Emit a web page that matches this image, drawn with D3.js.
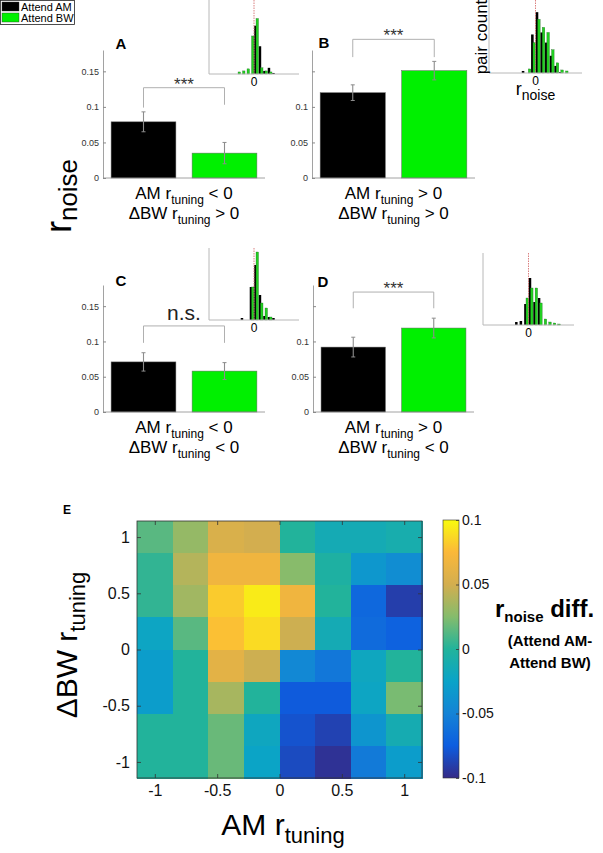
<!DOCTYPE html>
<html><head><meta charset="utf-8">
<script src="https://cdn.jsdelivr.net/npm/d3@7"></script>
<style>
body{margin:0;background:#fff}
svg{display:block}
text{font-family:"Liberation Sans",Arial,Helvetica,sans-serif;white-space:pre}
</style>
</head><body>
<svg id="fig" width="603" height="853"></svg>
<script>
// ---------------- DATA ----------------
const seriesNames = ["Attend AM", "Attend BW"];
const panelLetters = ["A", "B", "C", "D"];
const meanAttendAM = [0.079, 0.120, 0.071, 0.092];
const meanAttendBW = [0.035, 0.151, 0.058, 0.119];
const semAttendAM = [0.014, 0.011, 0.013, 0.014];
const semAttendBW = [0.015, 0.013, 0.012, 0.014];
const sigLabels = ["***", "***", "n.s.", "***"];
const amCondition = ["< 0", "> 0", "< 0", "> 0"];
const bwCondition = ["> 0", "> 0", "< 0", "< 0"];
const bracketTop = [0.127, 0.195, 0.122, 0.170];
const bracketLegLeft = [0.099, 0.170, 0.098, 0.147];
const bracketLegRight = [0.103, 0.170, 0.098, 0.147];
const barTicks = [0, 0.05, 0.1, 0.15];
const barTickLabels = [
  ["0", "0.05", "0.1", "0.15"],
  ["0", "0.05", "0.1", ""],
  ["0", "0.05", "0.1", "0.15"],
  ["0", "0.05", "0.1", ""]
];

// inset histograms of r_noise (pair counts)
const histBinCenters = [-0.35, -0.25, -0.15, -0.05, 0.05, 0.15, 0.25, 0.35, 0.45, 0.55, 0.65];
const histAM_A = [0, 0, 0, 0, 47, 27, 3, 6, 1, 0, 0];
const histBW_A = [2, 3, 5, 37, 54, 6, 3, 2, 0, 0, 0];
const histAM_B = [0, 2, 0, 38, 60, 40, 30, 17, 7, 1, 0];
const histBW_B = [0, 0, 4, 30, 53, 45, 40, 23, 10, 3, 2];
const histAM_C = [0, 2, 0, 33, 55, 25, 4, 3, 2, 0, 0];
const histBW_C = [0, 0, 0, 33, 68, 17, 12, 3, 0, 0, 0];
const histAM_D = [0, 3, 4, 21, 47, 23, 27, 0, 0, 0, 0];
const histBW_D = [0, 0, 0, 27, 37, 37, 22, 6, 3, 2, 1];
const histAM = [histAM_A, histAM_B, histAM_C, histAM_D];
const histBW = [histBW_A, histBW_B, histBW_C, histBW_D];

// heat map E
const amTuningBins = [-1, -0.714, -0.429, -0.143, 0.143, 0.429, 0.714, 1];
const bwTuningBins = [1, 0.714, 0.429, 0.143, -0.143, -0.429, -0.714, -1]; // rows top -> bottom
const noiseDiff = [
  [0.014, 0.030, 0.054, 0.050, 0.000, -0.014, -0.014, -0.010],
  [0.004, 0.040, 0.068, 0.068, 0.026, -0.004, -0.034, -0.042],
  [0.004, 0.034, 0.082, 0.094, 0.068, 0.000, -0.068, -0.090],
  [-0.022, 0.014, 0.078, 0.088, 0.048, -0.014, -0.066, -0.072],
  [-0.030, 0.000, 0.060, 0.048, -0.046, -0.058, -0.020, 0.000],
  [-0.030, 0.000, 0.036, 0.000, -0.076, -0.076, -0.022, 0.022],
  [0.000, 0.000, 0.018, -0.020, -0.080, -0.088, -0.036, -0.012],
  [0.000, 0.000, 0.018, -0.024, -0.084, -0.096, -0.056, -0.030]
];
const heatTicks = [-1, -0.5, 0, 0.5, 1];
const colorbarTicks = [-0.1, -0.05, 0, 0.05, 0.1];

// ---------------- STYLE ----------------
const FONT = '"Liberation Sans", Arial, Helvetica, sans-serif';
const barColors = ["#000000", "#00f000"];
const parulaStops = ["#352a87", "#0d5de0", "#1483d6", "#0aa3c8", "#22b39b", "#85bc6c", "#d3ae4f", "#fbb839", "#f9fb0e"];
const axisGray = "#8a8a8a";

const svg = d3.select("#fig");

function richText(g, x, y, parts, opts = {}) {
  const t = g.append("text").attr("x", x).attr("y", y)
    .attr("text-anchor", opts.anchor || "middle")
    .attr("font-weight", opts.weight || "normal")
    .attr("fill", opts.fill || "#000");
  if (opts.rotate) t.attr("transform", `rotate(${opts.rotate},${x},${y})`);
  let cur = 0;
  parts.forEach(p => {
    const s = p.shift || 0;
    t.append("tspan").attr("font-size", p.size).attr("dy", s - cur).text(p.text);
    cur = s;
  });
  return t;
}

// ---------------- LEGEND ----------------
const leg = svg.append("g");
leg.append("rect").attr("x", 0.5).attr("y", 0.5).attr("width", 74).attr("height", 24)
  .attr("fill", "#fff").attr("stroke", "#222").attr("stroke-width", 0.8);
seriesNames.forEach((n, i) => {
  leg.append("rect").attr("x", 2).attr("y", 2 + i * 11).attr("width", 17).attr("height", 9)
    .attr("fill", barColors[i]).attr("stroke", "#333").attr("stroke-width", 0.4);
  leg.append("text").attr("x", 21).attr("y", 10.5 + i * 11).attr("font-size", 11).text(n);
});

// ---------------- BAR PANELS ----------------
const panelFrames = [
  {x0: 103, x1: 265, yTop: 50, yBase: 178, lx: 121, ly: 49},
  {x0: 312, x1: 475, yTop: 50, yBase: 178, lx: 324, ly: 48},
  {x0: 103, x1: 265, yTop: 285, yBase: 412, lx: 121, ly: 286},
  {x0: 313, x1: 474, yTop: 285, yBase: 412, lx: 323, ly: 287}
];
const insetFrames = [
  {x0: 209, x1: 299, yTop: 0, yBase: 74},
  {x0: 489, x1: 582, yTop: 0, yBase: 73},
  {x0: 209, x1: 299, yTop: 248, yBase: 320},
  {x0: 483, x1: 574, yTop: 253, yBase: 325}
];

panelLetters.forEach((letter, i) => {
  const f = panelFrames[i];
  const g = svg.append("g");
  const y = d3.scaleLinear().domain([0, 0.18]).range([f.yBase, f.yTop]);
  const x = d3.scaleBand().domain(seriesNames).range([f.x0, f.x1]).paddingInner(0.2).paddingOuter(0.1);
  const means = [meanAttendAM[i], meanAttendBW[i]];
  const sems = [semAttendAM[i], semAttendBW[i]];

  g.selectAll("rect.bar").data(seriesNames).join("rect")
    .attr("x", d => x(d)).attr("width", x.bandwidth())
    .attr("y", (d, j) => y(means[j])).attr("height", (d, j) => y(0) - y(means[j]))
    .attr("fill", (d, j) => barColors[j]).attr("stroke", "#666").attr("stroke-width", 0.5);

  seriesNames.forEach((d, j) => {
    const cx = x(d) + x.bandwidth() / 2;
    const lo = y(means[j] - sems[j]), hi = y(means[j] + sems[j]);
    g.append("line").attr("x1", cx).attr("x2", cx).attr("y1", lo).attr("y2", hi)
      .attr("stroke", "#8c8c8c").attr("stroke-width", 1.1);
    [lo, hi].forEach(yy => g.append("line").attr("x1", cx - 2).attr("x2", cx + 2)
      .attr("y1", yy).attr("y2", yy).attr("stroke", "#8c8c8c").attr("stroke-width", 1));
  });

  const ax = g.append("g").attr("transform", `translate(${f.x0},0)`)
    .call(d3.axisLeft(y).tickValues(barTicks).tickFormat((d, k) => barTickLabels[i][k])
      .tickSizeInner(-3).tickSizeOuter(0).tickPadding(4));
  ax.attr("font-family", FONT).attr("font-size", 9);
  ax.select(".domain").attr("stroke", axisGray).attr("stroke-width", 0.8);
  ax.selectAll(".tick line").attr("stroke", axisGray);
  ax.selectAll("text").attr("fill", "#333");
  g.append("line").attr("x1", f.x0).attr("x2", f.x1).attr("y1", f.yBase).attr("y2", f.yBase)
    .attr("stroke", axisGray).attr("stroke-width", 0.8);

  g.append("text").attr("x", f.lx).attr("y", f.ly).attr("text-anchor", "middle")
    .attr("font-weight", "bold").attr("font-size", 15).text(letter);

  const bx1 = x(seriesNames[0]) + x.bandwidth() / 2, bx2 = x(seriesNames[1]) + x.bandwidth() / 2;
  const by = y(bracketTop[i]);
  g.append("path")
    .attr("d", `M${bx1},${y(bracketLegLeft[i])}V${by}H${bx2}V${y(bracketLegRight[i])}`)
    .attr("fill", "none").attr("stroke", "#b0b0b0").attr("stroke-width", 1);
  const isNS = sigLabels[i] === "n.s.";
  g.append("text").attr("x", (bx1 + bx2) / 2).attr("y", isNS ? by - 5.5 : by + 2)
    .attr("text-anchor", "middle").attr("font-size", isNS ? 21 : 17)
    .attr("fill", isNS ? "#222" : "#333").text(sigLabels[i]);

  const cx = (f.x0 + f.x1) / 2;
  richText(g, cx, f.yBase + 21, [
    {text: "AM r", size: 17}, {text: "tuning", size: 12, shift: 5}, {text: " " + amCondition[i], size: 17}]);
  richText(g, cx, f.yBase + 41, [
    {text: "\u0394BW r", size: 17}, {text: "tuning", size: 12, shift: 5}, {text: " " + bwCondition[i], size: 17}]);

  // inset histogram
  const fi = insetFrames[i];
  const gi = svg.append("g");
  gi.append("rect").attr("x", fi.x0 - 2).attr("y", fi.yTop).attr("width", fi.x1 - fi.x0 + 4)
    .attr("height", fi.yBase - fi.yTop + 1).attr("fill", "#fff");
  const hx = d3.scaleLinear().domain([-1, 1]).range([fi.x0, fi.x1]);
  const hy = d3.scaleLinear().domain([0, 72]).range([fi.yBase, fi.yTop]);
  gi.selectAll("rect.am").data(histBinCenters).join("rect")
    .attr("x", c => hx(c - 0.045)).attr("width", c => hx(c + 0.01) - hx(c - 0.045))
    .attr("y", (c, k) => hy(histAM[i][k])).attr("height", (c, k) => hy(0) - hy(histAM[i][k]))
    .attr("fill", "#000");
  gi.selectAll("rect.bw").data(histBinCenters).join("rect")
    .attr("x", c => hx(c - 0.005)).attr("width", c => hx(c + 0.05) - hx(c - 0.005))
    .attr("y", (c, k) => hy(histBW[i][k])).attr("height", (c, k) => hy(0) - hy(histBW[i][k]))
    .attr("fill", "#22d022").attr("stroke", "#1a5a1a").attr("stroke-width", 0.3)
    .attr("display", (c, k) => histBW[i][k] > 0 ? null : "none");
  gi.append("line").attr("x1", hx(0)).attr("x2", hx(0)).attr("y1", fi.yTop).attr("y2", fi.yBase)
    .attr("stroke", "#d06060").attr("stroke-width", 0.8).attr("stroke-dasharray", "1.5,1");
  gi.append("path").attr("d", `M${fi.x0},${fi.yTop}V${fi.yBase}H${fi.x1}`)
    .attr("fill", "none").attr("stroke", "#b8b8b8").attr("stroke-width", 1);
  gi.append("text").attr("x", hx(0)).attr("y", fi.yBase + 12).attr("text-anchor", "middle")
    .attr("font-size", 12).text("0");
  if (i === 1) {
    gi.append("text").attr("x", fi.x0 - 2).attr("y", 37).attr("text-anchor", "middle")
      .attr("font-size", 17).attr("transform", `rotate(-90,${fi.x0 - 2},37)`).text("pair count");
    richText(gi, hx(0), 95, [{text: "r", size: 18}, {text: "noise", size: 14, shift: 5}]);
  }
});

// big r_noise y label
richText(svg, 71, 196, [{text: "r", size: 36}, {text: "noise", size: 26, shift: 6}], {rotate: -90});

// ---------------- HEATMAP E ----------------
const gE = svg.append("g");
gE.append("text").attr("x", 67).attr("y", 514).attr("text-anchor", "middle")
  .attr("font-weight", "bold").attr("font-size", 12).text("E");

const half = 1 / 7;
const ex = d3.scaleLinear().domain([-1 - half, 1 + half]).range([137, 422]);
const ey = d3.scaleLinear().domain([-1 - half, 1 + half]).range([778, 521]);
const color = d3.scaleLinear()
  .domain([-0.1, -0.075, -0.05, -0.025, 0, 0.025, 0.05, 0.075, 0.1])
  .range(parulaStops).interpolate(d3.interpolateRgb).clamp(true);

const cells = [];
bwTuningBins.forEach((yv, r) => amTuningBins.forEach((xv, c) => cells.push({xv, yv, v: noiseDiff[r][c]})));
gE.selectAll("rect.cell").data(cells).join("rect")
  .attr("x", d => ex(d.xv - half)).attr("width", d => ex(d.xv + half) - ex(d.xv - half) + 0.5)
  .attr("y", d => ey(d.yv + half)).attr("height", d => ey(d.yv - half) - ey(d.yv + half) + 0.5)
  .attr("fill", d => color(d.v)).attr("shape-rendering", "crispEdges");

function styleHeatAxis(a, size) {
  a.attr("font-family", FONT).attr("font-size", size);
  a.select(".domain").remove();
  a.selectAll(".tick line").attr("stroke", "#333").attr("stroke-width", 0.8);
  a.selectAll("text").attr("fill", "#111");
}
const fmt = d => String(d);
styleHeatAxis(gE.append("g").attr("transform", "translate(0,778)")
  .call(d3.axisBottom(ex).tickValues(heatTicks).tickFormat(fmt).tickSizeInner(-4).tickSizeOuter(0).tickPadding(7)), 16);
styleHeatAxis(gE.append("g").attr("transform", "translate(0,521)")
  .call(d3.axisTop(ex).tickValues(heatTicks).tickFormat("").tickSizeInner(-4).tickSizeOuter(0)), 16);
styleHeatAxis(gE.append("g").attr("transform", "translate(137,0)")
  .call(d3.axisLeft(ey).tickValues(heatTicks).tickFormat(fmt).tickSizeInner(-4).tickSizeOuter(0).tickPadding(7)), 16);
styleHeatAxis(gE.append("g").attr("transform", "translate(422,0)")
  .call(d3.axisRight(ey).tickValues(heatTicks).tickFormat("").tickSizeInner(-4).tickSizeOuter(0)), 16);
gE.append("rect").attr("x", 137).attr("y", 521).attr("width", 285).attr("height", 257)
  .attr("fill", "none").attr("stroke", "#333").attr("stroke-width", 0.8);

richText(gE, 283, 835, [{text: "AM r", size: 30}, {text: "tuning", size: 22, shift: 8}]);
richText(gE, 77, 645, [{text: "\u0394BW r", size: 30}, {text: "tuning", size: 22, shift: 8}], {rotate: -90});

// colorbar
const cb = d3.scaleLinear().domain([-0.1, 0.1]).range([778, 520]);
const defs = svg.append("defs");
const grad = defs.append("linearGradient").attr("id", "parula")
  .attr("x1", 0).attr("y1", 1).attr("x2", 0).attr("y2", 0);
grad.selectAll("stop").data(parulaStops).join("stop")
  .attr("offset", (d, k) => k / (parulaStops.length - 1)).attr("stop-color", d => d);
gE.append("rect").attr("x", 443).attr("y", 520).attr("width", 16).attr("height", 258)
  .attr("fill", "url(#parula)").attr("stroke", "#333").attr("stroke-width", 0.6);
const cba = gE.append("g").attr("transform", "translate(459,0)")
  .call(d3.axisRight(cb).tickValues(colorbarTicks).tickFormat(fmt).tickSizeInner(-3).tickSizeOuter(0).tickPadding(3));
styleHeatAxis(cba, 14);

richText(gE, 495, 617, [{text: "r", size: 24}, {text: "noise", size: 15, shift: 5}, {text: " diff.", size: 24}],
  {anchor: "start", weight: "bold"});
gE.append("text").attr("x", 550).attr("y", 646).attr("text-anchor", "middle")
  .attr("font-weight", "bold").attr("font-size", 15).text("(Attend AM-");
gE.append("text").attr("x", 550).attr("y", 668).attr("text-anchor", "middle")
  .attr("font-weight", "bold").attr("font-size", 15).text("Attend BW)");
</script>
</body></html>
